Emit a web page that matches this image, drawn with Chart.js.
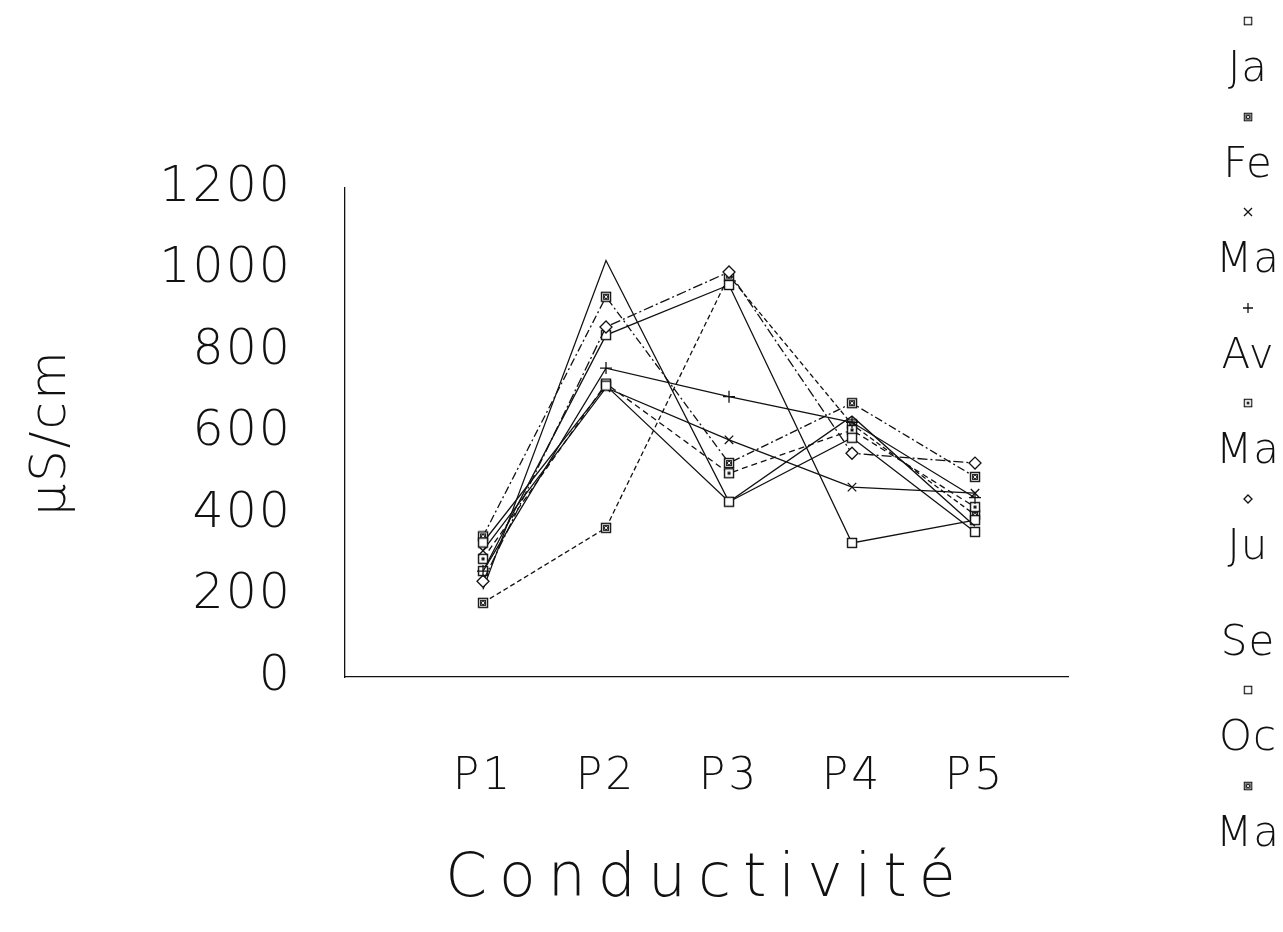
<!DOCTYPE html>
<html>
<head>
<meta charset="utf-8">
<script src="https://cdn.jsdelivr.net/npm/chart.js@4.4.1/dist/chart.umd.min.js"></script>
<style>
  body { margin: 0; background: #fff; }
  #wrap { position: relative; width: 1283px; height: 932px; }
  #legende { position: absolute; left: 1208px; top: 0; width: 80px; }
  .item { position: absolute; left: 0; width: 80px; text-align: center; }
  .item canvas { display: block; margin: 0 auto; }
  .item span { display: block; font-family: 'DejaVu Sans'; font-weight: 200; font-size: 42px; line-height: 42px; color: #111; margin-top: 18px; letter-spacing: 1px; }
</style>
</head>
<body>
<div id="wrap">
  <canvas id="grafica" width="1283" height="932"></canvas>
  <div id="legende"></div>
</div>
<script>
const xLabels = ['P1', 'P2', 'P3', 'P4', 'P5'];
const yTicks = [0, 200, 400, 600, 800, 1000, 1200];
const moisLabels = ['Ja', 'Fe', 'Ma', 'Av', 'Ma', 'Ju', 'Se', 'Oc', 'Ma'];

const janvier   = [330, 715, 430, 587, 356];
const fevrier   = [345, 933, 525, 672, 491];
const mars      = [310, 710, 582, 466, 451];
const avril     = [260, 758, 688, 625, 440];
const mai       = [290, 720, 500, 606, 417];
const juin      = [235, 859, 994, 549, 525];
const septembre = [215, 1022, 430, 640, 370];
const octobre   = [260, 839, 962, 329, 385];
const mai2      = [182, 366, 985, 620, 398];

const police = "'DejaVu Sans'";

// petits symboles dessinés à la main
function boite(type, size) {
    const c = document.createElement('canvas');
    c.width = size; c.height = size;
    const ctx = c.getContext('2d');
    const m = 1.5, s = size - 3;
    ctx.strokeStyle = '#111';
    ctx.lineWidth = 1.4;
    ctx.fillStyle = '#fff';
    ctx.fillRect(m, m, s, s);
    ctx.strokeRect(m, m, s, s);
    if (type === 'plein') {
        ctx.fillStyle = '#222';
        ctx.fillRect(m + 1.5, m + 1.5, s - 3, s - 3);
        ctx.strokeStyle = '#fff';
        ctx.lineWidth = 1;
        ctx.beginPath();
        ctx.moveTo(m + 3, m + 3); ctx.lineTo(m + s - 3, m + s - 3);
        ctx.moveTo(m + s - 3, m + 3); ctx.lineTo(m + 3, m + s - 3);
        ctx.stroke();
    } else if (type === 'point') {
        ctx.fillStyle = '#111';
        ctx.fillRect(size / 2 - 1.5, size / 2 - 1.5, 3, 3);
    }
    return c;
}

const carre = boite('vide', 12);
const carrePlein = boite('plein', 12);
const carrePoint = boite('point', 12);

const series = [
    {data: janvier, style: carre, dash: []},
    {data: fevrier, style: carrePlein, dash: [8, 3, 2, 3]},
    {data: mars, style: 'crossRot', dash: []},
    {data: avril, style: 'cross', dash: []},
    {data: mai, style: carrePoint, dash: [6, 4]},
    {data: juin, style: 'rectRot', dash: [10, 3, 2, 3]},
    {data: septembre, style: false, dash: []},
    {data: octobre, style: carre, dash: []},
    {data: mai2, style: carrePlein, dash: [5, 3]}
];

const datasets = series.map((s, i) => ({
    label: moisLabels[i],
    data: s.data.map((v, k) => ({x: k + 1, y: v})),
    borderColor: '#111',
    borderWidth: 1.3,
    borderDash: s.dash,
    backgroundColor: '#fff',
    pointStyle: s.style,
    pointRadius: s.style ? 6 : 0,
    pointBorderWidth: 1.3,
    pointBorderColor: '#111',
    tension: 0
}));

// espacement des lettres façon traceur
const espacement = {
    id: 'espacement',
    afterLayout(chart) {
        const sx = chart.scales.x, sy = chart.scales.y;
        if (sx._espace) return;
        sx._espace = true;
        const wrap = (obj, fn, px) => {
            const o = obj[fn];
            obj[fn] = function (...a) {
                this.ctx.letterSpacing = px;
                o.apply(this, a);
                this.ctx.letterSpacing = '0px';
            };
        };
        wrap(sx, 'drawTitle', '12px');
        wrap(sx, 'drawLabels', '3px');
        wrap(sy, 'drawLabels', '2px');
        wrap(sy, 'drawTitle', '2px');
    }
};

const ctx = document.getElementById('grafica');
new Chart(ctx, {
    type: 'line',
    data: {datasets: datasets},
    plugins: [espacement],
    options: {
        responsive: false,
        animation: false,
        devicePixelRatio: 1,
        layout: {padding: {top: 188, right: 215, bottom: 0, left: 0}},
        plugins: {legend: {display: false}, tooltip: {enabled: false}},
        scales: {
            x: {
                type: 'linear',
                min: -0.122,
                max: 5.756,
                afterBuildTicks: axis => { axis.ticks = xLabels.map((l, i) => ({value: i + 1})); },
                afterFit: axis => { axis.height = 932 - 677; },
                grid: {display: false},
                border: {display: true, color: '#111', width: 1.3},
                ticks: {
                    callback: v => xLabels[v - 1],
                    color: '#111',
                    padding: 66,
                    maxRotation: 0,
                    font: {family: police, weight: 200, size: 44}
                },
                title: {
                    display: true,
                    text: 'Conductivité',
                    color: '#111',
                    padding: {top: 0, bottom: 16},
                    font: {family: police, weight: 200, size: 60}
                }
            },
            y: {
                min: 0,
                max: 1200,
                afterBuildTicks: axis => { axis.ticks = yTicks.map(v => ({value: v})); },
                afterFit: axis => { axis.width = 345; },
                grid: {display: false},
                border: {display: true, color: '#111', width: 1.3},
                ticks: {
                    callback: v => String(v),
                    color: '#111',
                    padding: 45,
                    font: {family: police, weight: 200, size: 49}
                },
                title: {
                    display: true,
                    text: 'µS/cm',
                    color: '#111',
                    padding: {top: 22, bottom: 0},
                    font: {family: police, weight: 200, size: 50}
                }
            }
        }
    }
});

// légende verticale : symbole au-dessus du nom
const legende = document.getElementById('legende');
series.forEach((s, i) => {
    const item = document.createElement('div');
    item.className = 'item';
    item.style.top = (14 + i * 95.6) + 'px';
    const sym = document.createElement('canvas');
    sym.width = 14; sym.height = 14;
    const g = sym.getContext('2d');
    g.strokeStyle = '#111';
    g.lineWidth = 1.3;
    if (s.style instanceof HTMLCanvasElement) {
        g.drawImage(s.style, 2, 2, 10, 10);
    } else if (s.style === 'crossRot') {
        g.beginPath(); g.moveTo(3, 3); g.lineTo(11, 11); g.moveTo(11, 3); g.lineTo(3, 11); g.stroke();
    } else if (s.style === 'cross') {
        g.beginPath(); g.moveTo(7, 2); g.lineTo(7, 12); g.moveTo(2, 7); g.lineTo(12, 7); g.stroke();
    } else if (s.style === 'rectRot') {
        g.beginPath(); g.moveTo(7, 3); g.lineTo(11, 7); g.lineTo(7, 11); g.lineTo(3, 7); g.closePath(); g.stroke();
    }
    item.appendChild(sym);
    const t = document.createElement('span');
    t.textContent = moisLabels[i];
    item.appendChild(t);
    legende.appendChild(item);
});
</script>
</body>
</html>
